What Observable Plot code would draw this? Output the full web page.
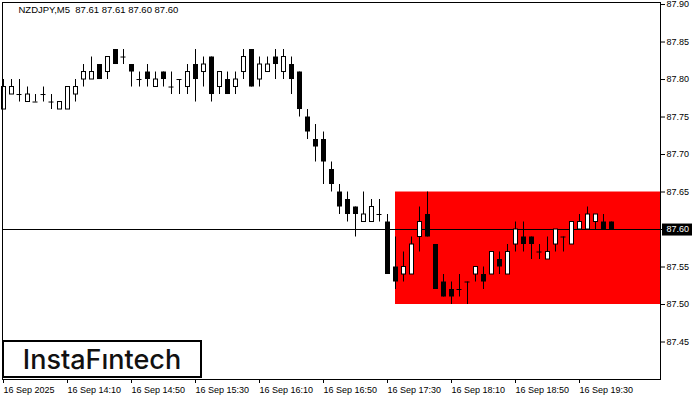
<!DOCTYPE html>
<html><head><meta charset="utf-8">
<script src="https://cdn.jsdelivr.net/npm/d3@7"></script>
<script src="https://cdn.jsdelivr.net/npm/@observablehq/plot@0.6"></script>
<style>
body{margin:0;background:#fff;}
#wrap{position:relative;width:700px;height:400px;overflow:hidden;}
#logo{position:absolute;left:2px;top:340px;width:196px;height:34px;border:2px solid #000;background:#fff;
  font-family:Inter,"Open Sans",sans-serif;font-weight:500;font-size:27px;color:#111;
  display:flex;align-items:center;justify-content:center;letter-spacing:0px;}
</style></head><body><div id="wrap"></div><script>
// ---- data ----
const symbol = "NZDJPY";
const timeframe = "M5";
const timeLabels = ["16 Sep 2025","16 Sep 14:10","16 Sep 14:50","16 Sep 15:30","16 Sep 16:10","16 Sep 16:50","16 Sep 17:30","16 Sep 18:10","16 Sep 18:50","16 Sep 19:30"];
const priceTicks = [87.45,87.50,87.55,87.60,87.65,87.70,87.75,87.80,87.85,87.90];
const opens  = [87.76,87.78,87.78,87.77,87.77,87.78,87.77,87.76,87.76,87.78,87.80,87.80,87.82,87.81,87.84,87.83,87.82,87.80,87.81,87.79,
                87.81,87.79,87.80,87.79,87.82,87.81,87.83,87.79,87.80,87.79,87.81,87.84,87.80,87.81,87.83,87.81,87.82,87.81,87.75,87.72,
                87.72,87.68,87.65,87.64,87.63,87.61,87.61,87.62,87.61,87.55,87.54,87.54,87.59,87.62,87.58,87.53,87.52,87.52,87.53,87.54,
                87.54,87.54,87.56,87.54,87.58,87.59,87.59,87.57,87.56,87.58,87.59,87.58,87.60,87.60,87.61,87.61,87.61];
const highs  = [87.80,87.80,87.80,87.79,87.78,87.79,87.78,87.77,87.79,87.80,87.82,87.83,87.82,87.83,87.84,87.84,87.82,87.81,87.82,87.81,
                87.81,87.81,87.80,87.82,87.84,87.83,87.83,87.81,87.81,87.81,87.84,87.84,87.83,87.83,87.84,87.84,87.83,87.81,87.76,87.74,
                87.73,87.69,87.66,87.65,87.63,87.65,87.64,87.64,87.62,87.59,87.57,87.59,87.63,87.65,87.58,87.54,87.53,87.54,87.53,87.55,
                87.55,87.57,87.57,87.58,87.61,87.61,87.59,87.58,87.59,87.60,87.59,87.61,87.62,87.63,87.62,87.62,87.61];
const lows   = [87.76,87.78,87.77,87.77,87.77,87.77,87.76,87.76,87.76,87.77,87.79,87.80,87.80,87.80,87.82,87.82,87.79,87.79,87.79,87.79,
                87.79,87.78,87.78,87.78,87.77,87.79,87.77,87.78,87.78,87.78,87.80,87.79,87.79,87.81,87.80,87.80,87.78,87.75,87.72,87.69,
                87.66,87.65,87.62,87.61,87.59,87.61,87.61,87.61,87.54,87.52,87.53,87.54,87.57,87.59,87.52,87.51,87.50,87.51,87.50,87.53,
                87.52,87.54,87.54,87.54,87.57,87.57,87.56,87.56,87.56,87.57,87.57,87.58,87.60,87.60,87.60,87.60,87.60];
const closes = [87.79,87.79,87.78,87.78,87.77,87.78,87.77,87.77,87.79,87.79,87.81,87.81,87.80,87.83,87.82,87.83,87.81,87.80,87.80,87.80,
                87.80,87.79,87.80,87.81,87.80,87.82,87.78,87.81,87.78,87.80,87.83,87.79,87.82,87.82,87.82,87.83,87.80,87.76,87.73,87.71,
                87.69,87.66,87.63,87.62,87.62,87.62,87.63,87.62,87.54,87.53,87.55,87.58,87.61,87.59,87.52,87.51,87.51,87.52,87.53,87.55,
                87.53,87.57,87.55,87.57,87.60,87.58,87.58,87.57,87.57,87.60,87.59,87.61,87.61,87.62,87.62,87.60,87.60];
const currentPrice = 87.60;
const zoneStart = 49;           // candle index where the zone begins
const zoneLow = 87.50, zoneHigh = 87.65;

// ---- build ----
const candles = opens.map((o, i) => ({i, open: o, high: highs[i], low: lows[i], close: closes[i]}));
const bodies = candles.filter(d => d.open !== d.close);
const dojis = candles.filter(d => d.open === d.close);
const last = candles[candles.length - 1];
const fmt = d3.format(".2f");
const title = `${symbol},${timeframe}\u00a0\u00a0${fmt(last.open)} ${fmt(last.high)} ${fmt(last.low)} ${fmt(last.close)}`;
const xMax = 82.125;

const chart = Plot.plot({
  width: 700, height: 400,
  marginLeft: 2, marginRight: 40, marginTop: 2, marginBottom: 21,
  style: {fontFamily: "'Liberation Sans', Arial, sans-serif", fontSize: "9px", color: "#000", background: "#fff"},
  x: {domain: [-0.125, xMax], label: null},
  y: {domain: [87.40, 87.9027], label: null},
  marks: [
    Plot.rect([{lo: zoneLow, hi: zoneHigh}], {x1: zoneStart, x2: xMax, y1: "lo", y2: "hi", fill: "#ff0000"}),
    Plot.ruleY([currentPrice], {stroke: "#000", strokeWidth: 1}),
    Plot.ruleX(candles, {x: "i", y1: "low", y2: "high", stroke: "#000", strokeWidth: 1}),
    Plot.rect(bodies.filter(d => d.close > d.open), {x1: d => d.i - 0.1875, x2: d => d.i + 0.3125, y1: "open", y2: "close", fill: "#fff", stroke: "#000", strokeWidth: 1}),
    Plot.rect(bodies.filter(d => d.close < d.open), {x1: d => d.i - 0.25, x2: d => d.i + 0.375, y1: "open", y2: "close", fill: "#000"}),
    Plot.ruleY(dojis, {y: "open", x1: d => d.i - 0.3125, x2: d => d.i + 0.3125, stroke: "#000"}),
    Plot.axisX({ticks: d3.range(0, opens.length, 8), tickFormat: i => timeLabels[i / 8], tickSize: 4, tickPadding: 3, textAnchor: "start", label: null, fill: "#000"}),
    Plot.axisY({anchor: "right", ticks: priceTicks, tickFormat: fmt, tickSize: 4, tickPadding: 2, label: null, fill: "#000"}),
    Plot.frame({stroke: "#000"}),
    Plot.rect([currentPrice], {x1: 82.375, x2: 86.125, y1: d => d - 0.0087, y2: d => d + 0.0073, fill: "#000"}),
    Plot.text([currentPrice], {x: 82.875, y: d => d, text: d => fmt(d), textAnchor: "start", fill: "#fff", fontSize: 9}),
    Plot.text([title], {frameAnchor: "top-left", dx: 16, dy: 3.5, textAnchor: "start", lineAnchor: "top", fill: "#000", fontSize: 9.5})
  ]
});
const wrap = document.getElementById("wrap");
wrap.appendChild(chart);
const logo = document.createElement("div");
logo.id = "logo";
logo.textContent = "InstaF\u0131ntech";
wrap.appendChild(logo);
</script></body></html>
